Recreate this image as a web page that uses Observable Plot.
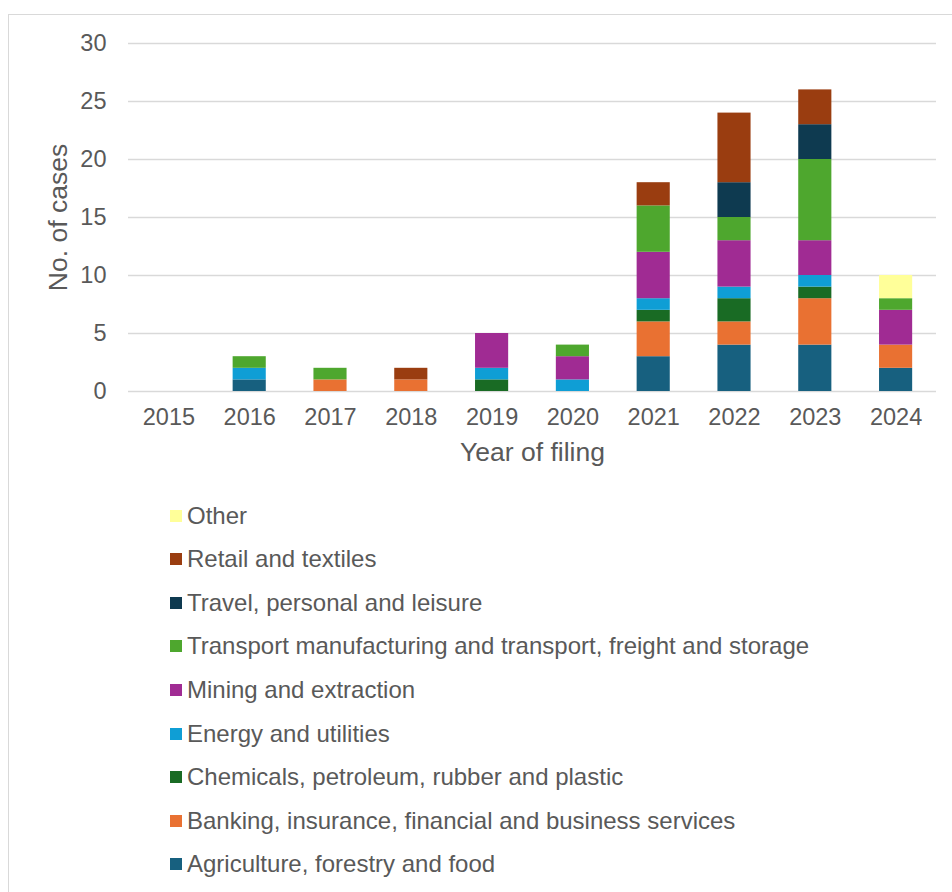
<!DOCTYPE html>
<html>
<head>
<meta charset="utf-8">
<script src="https://cdn.jsdelivr.net/npm/d3@7"></script>
<script src="https://cdn.jsdelivr.net/npm/@observablehq/plot@0.6"></script>
<style>
  html, body { margin: 0; padding: 0; background: #fff; width: 952px; height: 892px; overflow: hidden; }
  body { position: relative; font-family: Arial, "Liberation Sans", sans-serif; }
  #frame { position: absolute; left: 8px; top: 14px; width: 960px; height: 900px; border: 1.5px solid #d9d9d9; box-sizing: border-box; }
  #chart { position: absolute; left: 0; top: 0; }
  #legend { position: absolute; left: 170px; top: 0; }
  .item { position: absolute; left: 0; white-space: nowrap; font-size: 24px; color: #595959; display: flex; align-items: center; }
  .sw { width: 12px; height: 12px; margin-right: 5px; display: inline-block; }
</style>
</head>
<body>
<div id="frame"></div>
<div id="chart"></div>
<div id="legend"></div>
<script>
const years = ["2015","2016","2017","2018","2019","2020","2021","2022","2023","2024"];
const sectors = [
  "Agriculture, forestry and food",
  "Banking, insurance, financial and business services",
  "Chemicals, petroleum, rubber and plastic",
  "Energy and utilities",
  "Mining and extraction",
  "Transport manufacturing and transport, freight and storage",
  "Travel, personal and leisure",
  "Retail and textiles",
  "Other"
];
const colors = ["#17607F","#E97132","#196B24","#0F9ED5","#A02B93","#4EA72E","#0E3A50","#9A3D10","#FFFF99"];
const agriculture = [0,1,0,0,0,0,3,4,4,2];
const banking     = [0,0,1,1,0,0,3,2,4,2];
const chemicals   = [0,0,0,0,1,0,1,2,1,0];
const energy      = [0,1,0,0,1,1,1,1,1,0];
const mining      = [0,0,0,0,3,2,4,4,3,3];
const transport   = [0,1,1,0,0,1,4,2,7,1];
const travel      = [0,0,0,0,0,0,0,3,3,0];
const retail      = [0,0,0,1,0,0,2,6,3,0];
const other       = [0,0,0,0,0,0,0,0,0,2];
const yTicks = [0,5,10,15,20,25,30];

const series = [agriculture, banking, chemicals, energy, mining, transport, travel, retail, other];
const rows = [];
sectors.forEach((s, i) => years.forEach((y, j) => rows.push({year: y, sector: s, value: series[i][j]})));

const textColor = "#595959";
const font = "Arial, 'Liberation Sans', sans-serif";
const chart = Plot.plot({
  width: 952,
  height: 480,
  marginLeft: 128,
  marginRight: 16,
  marginTop: 43,
  marginBottom: 89,
  style: {fontFamily: font, fontSize: "23px", color: textColor, background: "transparent"},
  x: {domain: years, paddingInner: 0.59, paddingOuter: 0.295, round: false, label: null},
  y: {domain: [0, 30], label: null},
  color: {domain: sectors, range: colors},
  marks: [
    Plot.ruleY(yTicks, {stroke: "#d9d9d9", strokeWidth: 1.5}),
    Plot.barY(rows, {x: "year", y: "value", fill: "sector", order: sectors}),
    Plot.axisY(yTicks, {tickSize: 0, tickPadding: 22, fontSize: 23.5, fill: textColor, label: null}),
    Plot.axisX({tickSize: 0, tickPadding: 17, fontSize: 23.5, fill: textColor, label: null}),
    Plot.text(["No. of cases"], {frameAnchor: "left", textAnchor: "middle", dx: -70, rotate: -90, fontSize: 26.5, fill: textColor}),
    Plot.text(["Year of filing"], {frameAnchor: "bottom", dy: 69, fontSize: 26.5, fill: textColor})
  ]
});
document.getElementById("chart").appendChild(chart);

const legend = document.getElementById("legend");
const legendOrder = sectors.slice().reverse();
const legendColors = colors.slice().reverse();
const rowY = [516, 559, 603, 646, 690, 734, 777, 821, 864];
legendOrder.forEach((s, i) => {
  const d = document.createElement("div");
  d.className = "item";
  d.style.top = (rowY[i] - 15) + "px";
  d.style.height = "30px";
  d.innerHTML = `<span class="sw" style="background:${legendColors[i]}"></span><span>${s}</span>`;
  legend.appendChild(d);
});
</script>
</body>
</html>
